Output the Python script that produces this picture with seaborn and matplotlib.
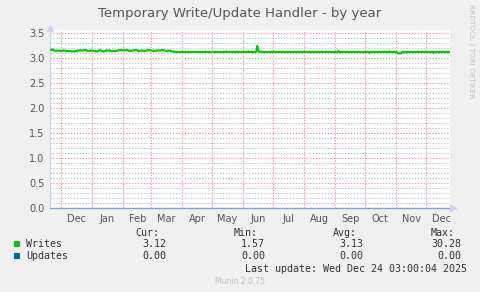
import matplotlib
matplotlib.use("Agg")
import matplotlib.pyplot as plt
import matplotlib.dates as mdates
from matplotlib.patches import Rectangle
import numpy as np
import pandas as pd
import seaborn as sns

# ---------------- data ----------------
write_dates = [
    "2024-11-21", "2024-11-23", "2024-11-25", "2024-11-28", "2024-12-01", "2024-12-04",
    "2024-12-07", "2024-12-10", "2024-12-13", "2024-12-16", "2024-12-19", "2024-12-22",
    "2024-12-25", "2024-12-28", "2024-12-31", "2025-01-03", "2025-01-06", "2025-01-09",
    "2025-01-12", "2025-01-15", "2025-01-18", "2025-01-21", "2025-01-24", "2025-01-27",
    "2025-01-30", "2025-02-02", "2025-02-05", "2025-02-08", "2025-02-11", "2025-02-14",
    "2025-02-17", "2025-02-20", "2025-02-23", "2025-02-26", "2025-03-01", "2025-03-04",
    "2025-03-07", "2025-03-10", "2025-03-13", "2025-03-16", "2025-03-19", "2025-03-22",
    "2025-03-25", "2025-04-10", "2025-04-30",
    "2025-05-02", "2025-05-14", "2025-05-15", "2025-05-16", "2025-06-05", "2025-06-06",
    "2025-06-07", "2025-06-14", "2025-06-15", "2025-06-16", "2025-06-17", "2025-06-19",
    "2025-06-20", "2025-06-30", "2025-07-01", "2025-07-02", "2025-09-03", "2025-09-04",
    "2025-09-05", "2025-10-04", "2025-10-05", "2025-10-06", "2025-10-19", "2025-10-20",
    "2025-10-21", "2025-10-24", "2025-10-25", "2025-10-26", "2025-11-01", "2025-11-02",
    "2025-11-04", "2025-11-06", "2025-11-07", "2025-11-10", "2025-11-11", "2025-11-12",
    "2025-12-07", "2025-12-08", "2025-12-09", "2025-12-24",
]
write_values = [
    3.16, 3.17, 3.14, 3.15, 3.14, 3.15,
    3.14, 3.14, 3.13, 3.14, 3.15, 3.15,
    3.16, 3.14, 3.15, 3.14, 3.13, 3.16,
    3.13, 3.15, 3.15, 3.14, 3.14, 3.15,
    3.16, 3.15, 3.16, 3.14, 3.15, 3.16,
    3.14, 3.15, 3.14, 3.16, 3.15, 3.14,
    3.15, 3.15, 3.16, 3.14, 3.15, 3.13,
    3.12, 3.12, 3.12,
    3.12, 3.12, 3.13, 3.12, 3.12, 3.13,
    3.12, 3.12, 3.24, 3.15, 3.12, 3.13,
    3.12, 3.12, 3.13, 3.12, 3.12, 3.14,
    3.12, 3.12, 3.10, 3.12, 3.12, 3.13,
    3.12, 3.12, 3.13, 3.12, 3.12, 3.10,
    3.09, 3.10, 3.12, 3.12, 3.11, 3.12,
    3.12, 3.10, 3.12, 3.12,
]
gap_date = "2025-05-01"          # missing data
update_dates = ["2024-11-20", "2025-12-24"]
update_values = [0.0, 0.0]

month_labels = ["Dec", "Jan", "Feb", "Mar", "Apr", "May", "Jun",
                "Jul", "Aug", "Sep", "Oct", "Nov", "Dec"]
legend_names = ["Writes", "Updates"]
legend_cur = ["3.12", "0.00"]
legend_min = ["1.57", "0.00"]
legend_avg = ["3.13", "0.00"]
legend_max = ["30.28", "0.00"]
title = "Temporary Write/Update Handler - by year"
last_update = "Last update: Wed Dec 24 03:00:04 2025"

# ---------------- styling ----------------
sns.set_style("white")
plt.rcParams["font.family"] = ["DejaVu Sans"]

W, H = 481, 292
fig = plt.figure(figsize=(W / 100, H / 100), dpi=100, facecolor="#f0f0f0")
L, R, T, B = 50, 450, 30, 208
ax = fig.add_axes([L / W, 1 - B / H, (R - L) / W, (B - T) / H])
ax.set_facecolor("#ffffff")

df = pd.DataFrame({"date": pd.to_datetime(write_dates), "val": write_values})
df["seg"] = np.where(df["date"] < pd.Timestamp(gap_date), 0, 1)
sns.lineplot(data=df, x="date", y="val", units="seg", estimator=None,
             color="#00cc00", linewidth=1.6, ax=ax, zorder=5)

du = pd.DataFrame({"date": pd.to_datetime(update_dates), "val": update_values})
sns.lineplot(data=du, x="date", y="val", color="#7fa3dc", linewidth=1.0,
             ax=ax, zorder=6, clip_on=False)

x0 = pd.Timestamp("2024-11-20")
x1 = pd.Timestamp("2025-12-24 12:00")
ax.set_xlim(x0, x1)
ax.set_ylim(0, 3.56)

# grids
dots = (0, (1.4, 1.4))
for yv in np.arange(0.1, 3.56, 0.1):
    if abs(yv / 0.5 - round(yv / 0.5)) < 1e-6:
        continue
    ax.axhline(yv, color="#c8c8c8", lw=0.75, ls=dots, zorder=1)
for yv in np.arange(0.5, 3.56, 0.5):
    ax.axhline(yv, color="#f0a0a0", lw=0.75, ls=dots, zorder=2)
month_starts = pd.date_range("2024-12-01", "2025-12-01", freq="MS")
for d in month_starts:
    ax.axvline(d, color="#f0a0a0", lw=0.75, ls=dots, zorder=2)

ax.set_yticks(np.arange(0, 3.6, 0.5))
ax.set_yticklabels([f"{v:.1f}" for v in np.arange(0, 3.6, 0.5)])
mids = [d + pd.Timedelta(days=15) for d in month_starts]
ax.set_xticks(mids)
ax.set_xticklabels(month_labels)
ax.tick_params(axis="both", length=0, labelsize=7, colors="#555555")
ax.tick_params(axis="y", pad=4)
ax.tick_params(axis="x", pad=4)
ax.set_xlabel("")
ax.set_ylabel("")
for s in ["top", "right", "bottom"]:
    ax.spines[s].set_visible(False)
ax.spines["left"].set_color("#c8d0ee")
ax.spines["left"].set_linewidth(0.8)

# arrows
ax.plot([0], [1.012], marker="^", ms=4, color="#c8d0ee", transform=ax.transAxes, clip_on=False)
ax.plot([1.008], [0], marker=">", ms=4, color="#c8d0ee", transform=ax.transAxes, clip_on=False)

def fx(px):
    return px / W

def fy(py):
    return 1 - py / H

fig.text(fx(240), fy(13), title, ha="center", va="center", fontsize=9.5, color="#555555")
fig.text(fx(471), fy(4), "RRDTOOL / TOBI OETIKER", rotation=270, ha="center", va="top",
         fontsize=5.3, color="#c4c4c4")

mono = dict(family="DejaVu Sans Mono", fontsize=7.2, color="#333333", va="center")
fig.text(fx(159), fy(233), "Cur:", ha="right", **mono)
fig.text(fx(258), fy(233), "Min:", ha="right", **mono)
fig.text(fx(357), fy(233), "Avg:", ha="right", **mono)
fig.text(fx(455), fy(233), "Max:", ha="right", **mono)
colors = ["#00cc00", "#0066b3"]
for i, name in enumerate(legend_names):
    yy = 244 + i * 12.3
    fig.patches.append(Rectangle((fx(14), fy(yy + 3)), 6 / W, 6 / H, transform=fig.transFigure,
                                 facecolor=colors[i], edgecolor="none"))
    fig.text(fx(26), fy(yy), name, ha="left", **mono)
    fig.text(fx(166), fy(yy), legend_cur[i], ha="right", **mono)
    fig.text(fx(265), fy(yy), legend_min[i], ha="right", **mono)
    fig.text(fx(363), fy(yy), legend_avg[i], ha="right", **mono)
    fig.text(fx(461), fy(yy), legend_max[i], ha="right", **mono)
fig.text(fx(467), fy(269), last_update, ha="right", **mono)
fig.text(fx(240), fy(281), "Munin 2.0.75", ha="center", va="center", fontsize=5.5, color="#c0c0c0")

fig.savefig("out.png", dpi=100, facecolor=fig.get_facecolor())
